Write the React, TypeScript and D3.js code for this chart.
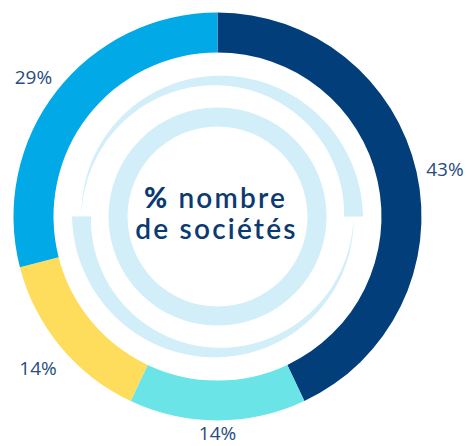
import React from 'react';
import * as d3 from 'd3';

const values = [43, 14, 14, 29];
const labels = ['43%', '14%', '14%', '29%'];
const colors = ['#023f7a', '#6ae4e7', '#ffdd5c', '#01a9e6'];
const centerLines = ['nombre', 'de sociétés'];

const W = 466;
const H = 446;
const cx = 217.5;
const cy = 216.5;
const R_OUT = 204;
const R_IN = 164;
const LABEL_R = 233;
const PALE = '#d2eef9';

export default function App() {
  const pie = d3.pie<number>().sort(null).value((d) => d).startAngle(0).endAngle(2 * Math.PI);
  const arcs = pie(values);
  const arcGen = d3.arc<d3.PieArcDatum<number>>().innerRadius(R_IN).outerRadius(R_OUT);

  const ts = d3.range(0, 1.0001, 0.005);
  const taper = (a0: number) =>
    d3
      .areaRadial<number>()
      .angle((t) => a0 + t * Math.PI)
      .innerRadius((t) => 136 - 9.5 * t)
      .outerRadius((t) => 136 + 9.5 * t)(ts) || '';

  const ringArc = d3.arc<any>().innerRadius(90).outerRadius(109).startAngle(0).endAngle(2 * Math.PI);

  return (
    <svg width={W} height={H} style={{ position: 'absolute', left: 0, top: 0, background: '#fff' }}>
      <g transform={`translate(${cx},${cy})`}>
        {arcs.map((a, i) => (
          <path key={i} d={arcGen(a) || ''} fill={colors[i]} />
        ))}
        <path d={taper(-Math.PI / 2)} fill={PALE} />
        <path d={taper(Math.PI / 2)} fill={PALE} />
        <path d={ringArc({}) || ''} fill={PALE} />
        <text
          x={-2}
          y={-9}
          textAnchor="middle"
          fill="#0b3a73"
          fontFamily="Lato, sans-serif"
          fontSize={28}
          letterSpacing={2.2}
        >
          <tspan fontWeight={900}>%</tspan>
          <tspan fontWeight={600}> {centerLines[0]}</tspan>
        </text>
        <text
          x={-1}
          y={22}
          textAnchor="middle"
          fill="#0b3a73"
          fontFamily="Lato, sans-serif"
          fontSize={28}
          fontWeight={600}
          letterSpacing={2.2}
        >
          {centerLines[1]}
        </text>
        {arcs.map((a, i) => {
          const mid = (a.startAngle + a.endAngle) / 2;
          const x = LABEL_R * Math.sin(mid);
          let y = -LABEL_R * Math.cos(mid) + 3;
          y = Math.min(y, H - cy - 13);
          return (
            <text
              key={i}
              x={x}
              y={y}
              textAnchor="middle"
              dominantBaseline="central"
              fill="#274c7e"
              fontFamily="'Open Sans', sans-serif"
              fontSize={19}
            >
              {labels[i]}
            </text>
          );
        })}
      </g>
    </svg>
  );
}
